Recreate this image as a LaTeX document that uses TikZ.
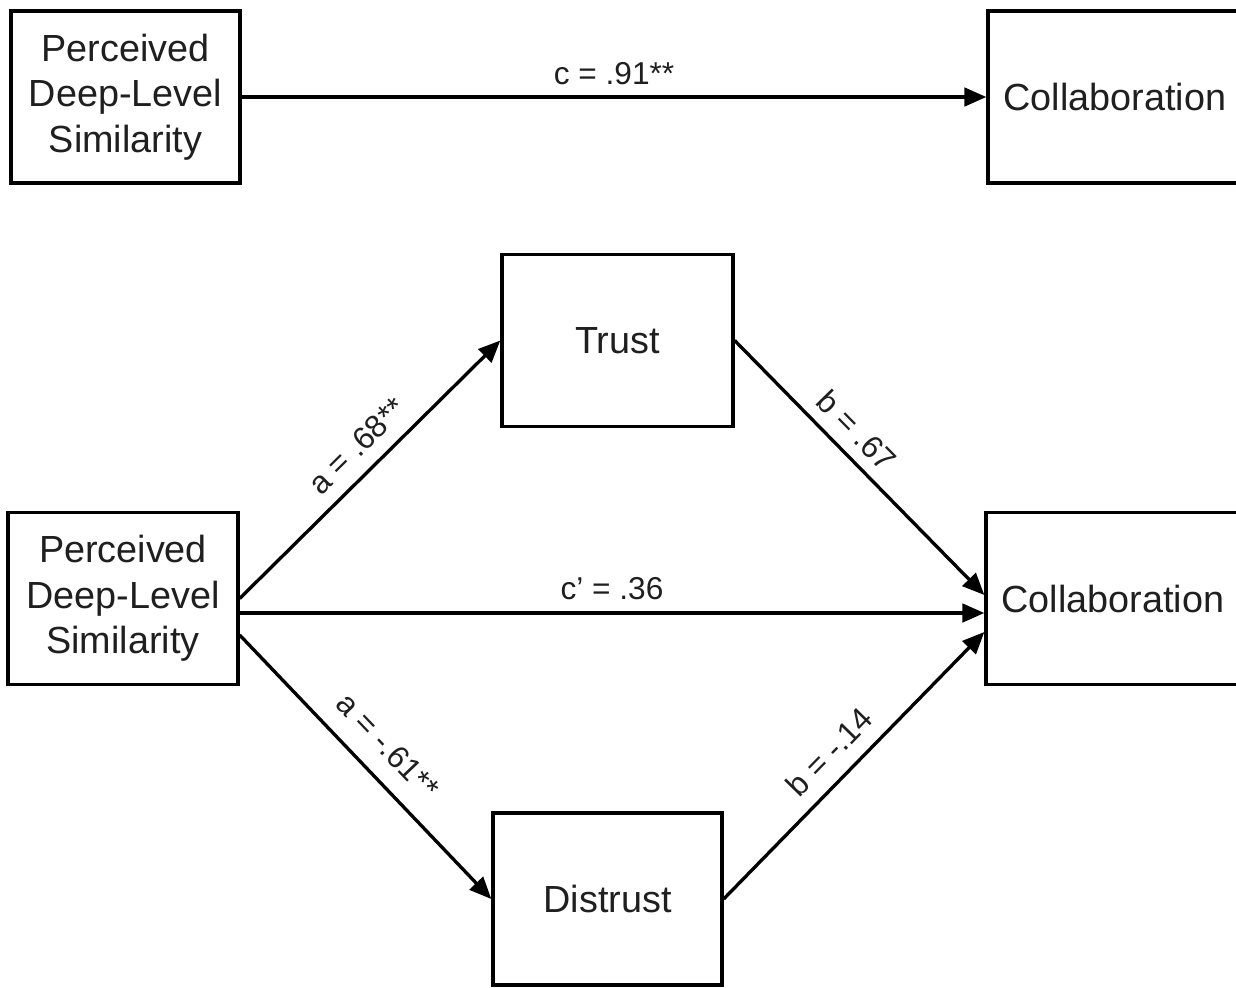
\documentclass[tikz,border=0pt]{standalone}
\usepackage{fontspec}
\setmainfont{Liberation Sans}
\usetikzlibrary{arrows.meta,calc}
\begin{document}
\begin{tikzpicture}[x=0.02cm,y=-0.02cm,
  box/.style={draw=black,line width=1.9pt,minimum width=#1*0.02cm,minimum height=172*0.02cm,inner sep=0pt,align=center,text=black!88,font=\fontsize{21.5}{26}\selectfont},
  box/.default=230,
  conn/.style={line width=1.9pt,-{Triangle[length=12.5pt,width=10.5pt]}},
  lab/.style={sloped,inner sep=0pt,text=black!88,font=\fontsize{18}{21}\selectfont}]
\clip (0,0) rectangle (1236,987);
\fill[white] (0,0) rectangle (1236,987);
% top model
\node[box=229] (tl) at (125.5,97) {Perceived\\Deep-Level\\Similarity};
\node[box=254] (tr) at (1115,97) {Collaboration};
\draw[conn] (tl.east) -- node[lab,above=6pt]{c = .91**} (tr.west);
% mediation model
\node[box=230] (bl) at (123,598.5) {Perceived\\Deep-Level\\Similarity};
\node[box=254] (br) at (1113,598.5) {Collaboration};
\node[box=231] (tru) at (617.5,340.5) {Trust};
\node[box=229] (dis) at (607.5,899) {Distrust};
\draw[conn] (bl.east) -- node[lab,pos=0.52,above=7.6pt]{a = .68**} (tru.west);
\draw[conn] (tru.east) -- node[lab,pos=0.42,above=6.2pt]{b = .67} ($(br.west)+(0,-3.5)$);
\draw[conn] ($(bl.east)+(0,14.5)$) -- node[lab,above=6.4pt]{c\textquoteright{} = .36} ($(br.west)+(0,14.5)$);
\draw[conn] ($(bl.east)+(0,36.5)$) -- node[lab,pos=0.5,above=10.2pt]{a = -.61**} (dis.west);
\draw[conn] (dis.east) -- node[lab,pos=0.48,above=7.9pt]{b = -.14} ($(br.west)+(0,33.5)$);
\end{tikzpicture}
\end{document}
